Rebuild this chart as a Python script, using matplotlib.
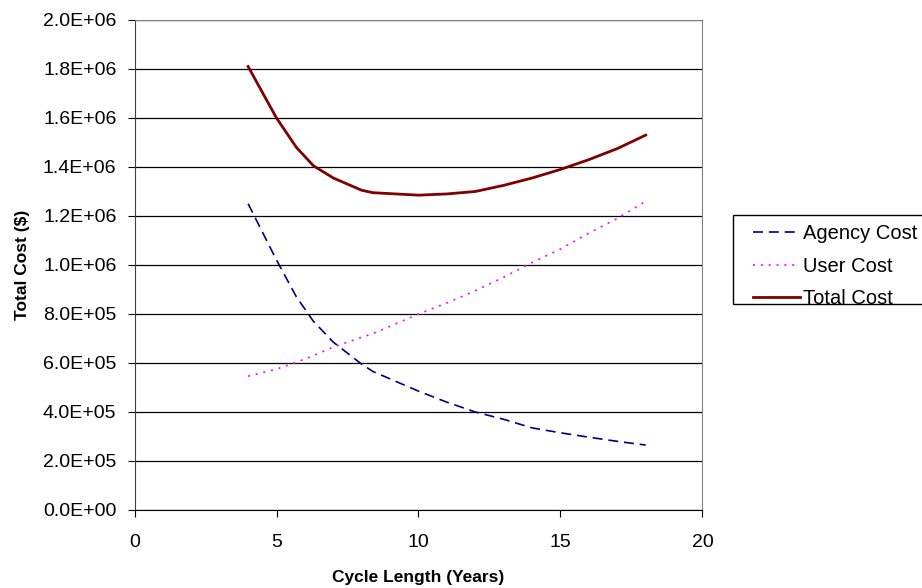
import matplotlib.pyplot as plt
from matplotlib.patches import Rectangle
from matplotlib.ticker import FuncFormatter, MultipleLocator

plt.rcParams['font.family'] = ['Liberation Sans', 'DejaVu Sans']

# cycle length in years and the three cost curves ($)
cycle_years = [4, 5, 5.7, 6.3, 7, 8, 8.4, 10, 11, 12, 13, 14, 15, 16, 17, 18]
agency_cost = [1.25e6, 1.02e6, 0.87e6, 0.77e6, 0.685e6, 0.595e6, 0.565e6, 0.485e6,
               0.44e6, 0.40e6, 0.37e6, 0.335e6, 0.315e6, 0.297e6, 0.28e6, 0.265e6]
user_cost = [0.546e6, 0.575e6, 0.603e6, 0.63e6, 0.665e6, 0.705e6, 0.72e6, 0.80e6,
             0.845e6, 0.895e6, 0.95e6, 1.01e6, 1.065e6, 1.13e6, 1.19e6, 1.26e6]
total_cost = [1.81e6, 1.60e6, 1.48e6, 1.405e6, 1.355e6, 1.305e6, 1.295e6, 1.285e6,
              1.29e6, 1.30e6, 1.325e6, 1.355e6, 1.39e6, 1.43e6, 1.475e6, 1.53e6]


def sci_label(v, pos):
    # Excel style "1.2E+06"
    if v == 0:
        return '0.0E+00'
    exp = len(str(int(v))) - 1
    return '%.1fE+%02d' % (v / 10 ** exp, exp)


fig = plt.figure(figsize=(9.22, 5.88), dpi=100)
ax = fig.add_axes([0.1459, 0.1327, 0.6160, 0.8333])

ax.plot(cycle_years, agency_cost, color='#000080', lw=1.2, dashes=(6, 3.5), label='Agency Cost')
ax.plot(cycle_years, user_cost, color='#FF00FF', lw=1.2, dashes=(1.2, 3.5), label='User Cost')
ax.plot(cycle_years, total_cost, color='#800000', lw=2.0, label='Total Cost')

ax.set_xlim(0, 20)
ax.set_ylim(0, 2.0e6)
ax.xaxis.set_major_locator(MultipleLocator(5))
ax.yaxis.set_major_locator(MultipleLocator(2e5))
ax.yaxis.set_major_formatter(FuncFormatter(sci_label))

ax.grid(axis='y', color='black', lw=0.9)
ax.set_axisbelow(True)
for side in ['top', 'right']:
    ax.spines[side].set_color('#808080')
ax.spines['left'].set_color('#404040')
ax.spines['bottom'].set_color('black')
ax.tick_params(direction='out', length=5, labelsize=14)
ax.tick_params(axis='y', pad=8)
ax.tick_params(axis='x', pad=12)

ax.set_xlabel('Cycle Length (Years)', fontsize=12.5, fontweight='bold')
ax.set_ylabel('Total Cost ($)', fontsize=12.5, fontweight='bold')
ax.xaxis.set_label_coords(0.5, -0.123)
ax.yaxis.set_label_coords(-0.184, 0.5)

# legend box sits partly off the right edge
fig.patches.append(Rectangle((733 / 922, 1 - 304 / 588), 0.25, 89 / 588, transform=fig.transFigure,
                             facecolor='white', edgecolor='black', lw=1.0))
leg = fig.legend(loc='upper left', bbox_to_anchor=(753 / 922, 1 - 224 / 588), fontsize=14.5,
                 handlelength=2.35, handletextpad=0.15, borderpad=0, borderaxespad=0,
                 labelspacing=0.68, frameon=False)

fig.savefig('out.png', dpi=100)
